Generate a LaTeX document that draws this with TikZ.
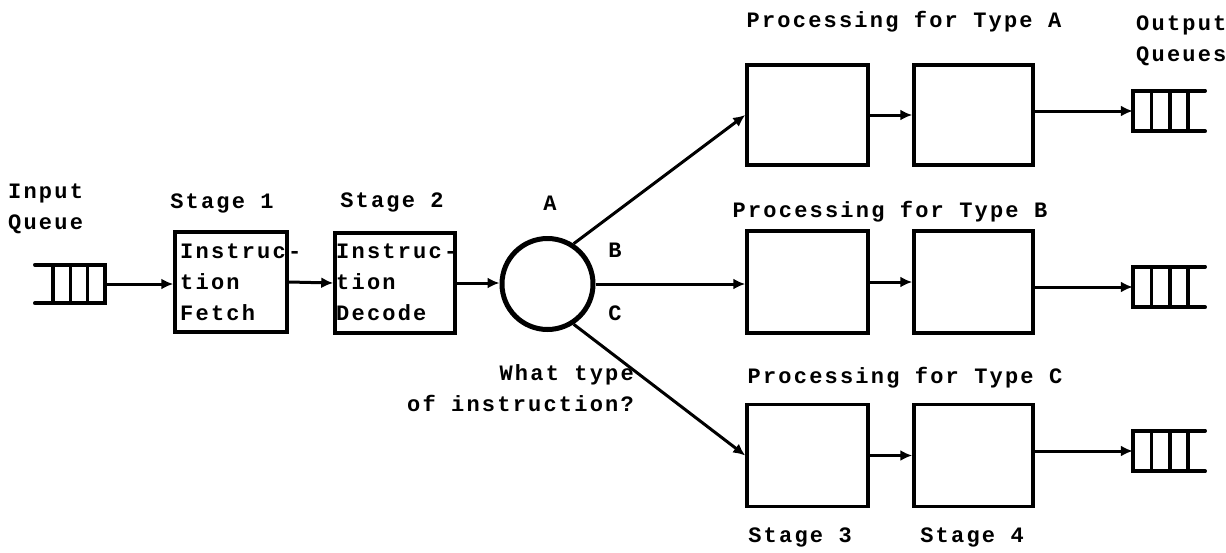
\documentclass[tikz,border=0pt]{standalone}
\usepackage{fontspec}
\newfontfamily\tw[LetterSpace=10]{Liberation Mono}
\usetikzlibrary{arrows.meta,calc}

\begin{document}
\begin{tikzpicture}[x=1pt,y=-1pt,
  txt/.style={font=\tw\bfseries\fontsize{22}{31}\selectfont, inner sep=0pt},
  stagebox/.style={draw, line width=3.5pt, inner sep=0pt},
  qbody/.style={inner sep=0pt, minimum width=55pt, minimum height=40pt},
  qline/.style={line width=3.5pt, line cap=round, line join=miter},
  conn/.style={line width=3pt, -{Latex[length=12pt,width=11pt]}},
]
\useasboundingbox (0,0) rectangle (1226,552);

% ---- input side ----
\node[txt, anchor=west, align=left] (inqlbl) at (8,209) {Input\\Queue};
\node[qbody, minimum width=52pt, minimum height=38pt] (inq) at (79,284) {};
\draw[qline] ([xshift=-18pt]inq.north west) -- (inq.north east) -- (inq.south east) -- ([xshift=-18pt]inq.south west);
\foreach \f in {0,0.3333,0.6667}
  \draw[qline] ($(inq.north west)!\f!(inq.north east)$) -- ($(inq.south west)!\f!(inq.south east)$);

% ---- stage 1 and stage 2 ----
\node[stagebox, minimum width=112pt, minimum height=100pt] (s1) at (231,282) {};
\node[stagebox, minimum width=120pt, minimum height=100pt] (s2) at (395,283) {};
\node[txt] (s1lbl) at (222,203) {Stage 1};
\node[txt] (s2lbl) at (392,202) {Stage 2};
\node[txt, anchor=west, align=left] (s1t) at (180,282) {Instruc-\\tion\\Fetch};
\node[txt, anchor=west, align=left] (s2t) at (336,282) {Instruc-\\tion\\Decode};

% ---- decision circle ----
\node[draw, circle, line width=5pt, minimum size=91pt, inner sep=0pt] (dec) at (547.5,284) {};
\node[txt] (la) at (550,203) {A};
\node[txt] (lb) at (615,250) {B};
\node[txt] (lc) at (615,313) {C};
\node[txt, anchor=east, align=right] (ask) at (634,388) {What type\\of instruction?};

% ---- processing rows ----
\node[stagebox, minimum width=121pt, minimum height=100pt] (a3) at (807.5,115) {};
\node[stagebox, minimum width=119pt, minimum height=100pt] (a4) at (973.5,115) {};
\node[stagebox, minimum width=121pt, minimum height=102pt] (b3) at (807.5,282) {};
\node[stagebox, minimum width=119pt, minimum height=102pt] (b4) at (973.5,282) {};
\node[stagebox, minimum width=121pt, minimum height=102pt] (c3) at (807.5,455.5) {};
\node[stagebox, minimum width=119pt, minimum height=102pt] (c4) at (973.5,455.5) {};

\node[txt] (pa) at (904,22) {Processing for Type A};
\node[txt] (pb) at (890,212) {Processing for Type B};
\node[txt] (pc) at (905,378) {Processing for Type C};
\node[txt] (st3) at (800,537) {Stage 3};
\node[txt] (st4) at (972,537) {Stage 4};
\node[txt, anchor=west, align=left] (oqlbl) at (1136,41) {Output\\Queues};

% ---- output queues ----
\foreach \n/\y in {qa/111, qb/287, qc/451} {
  \node[qbody] (\n) at (1160.5,\y) {};
  \draw[qline] ([xshift=17pt]\n.north east) -- (\n.north west) -- (\n.south west) -- ([xshift=17pt]\n.south east);
  \foreach \f in {0.3333,0.6667,1}
    \draw[qline] ($(\n.north west)!\f!(\n.north east)$) -- ($(\n.south west)!\f!(\n.south east)$);
}

% ---- connectors ----
\draw[conn] (inq.east) -- (inq.east -| s1.west);
\draw[conn] (s1.east) -- (s2.west);
\draw[conn] (s2.east) -- (s2.east -| dec.west);
\draw[conn] (dec.57) -- (a3.west);
\draw[conn] (dec.east) -- (dec.east -| b3.west);
\draw[conn] (dec.-57) -- (c3.west);
\draw[conn] (a3) -- (a4);
\draw[conn] (b3) -- (b4);
\draw[conn] (c3) -- (c4);
\draw[conn] (a4.east |- qa) -- (qa.west);
\draw[conn] (b4.east |- qb) -- (qb.west);
\draw[conn] (c4.east |- qc) -- (qc.west);
\end{tikzpicture}
\end{document}
